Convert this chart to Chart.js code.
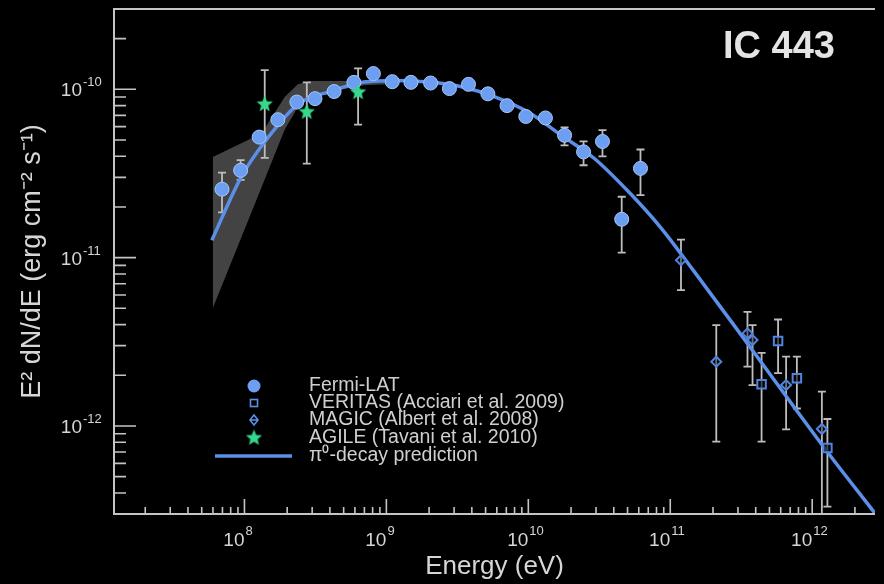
<!DOCTYPE html>
<html>
<head>
<meta charset="utf-8">
<script src="https://cdn.jsdelivr.net/npm/chart.js@4.4.0/dist/chart.umd.min.js"></script>
<style>
  html, body { margin: 0; padding: 0; background: #000; }
  #wrap { width: 884px; height: 584px; }
</style>
</head>
<body>
<div id="wrap"><canvas id="sed" width="884" height="584"></canvas></div>
<script>
// Fermi-LAT points (energy in eV, E^2 dN/dE in erg cm^-2 s^-1)
const fermiE  = [6.95e7, 9.4e7, 1.27e8, 1.72e8, 2.34e8, 3.14e8, 4.28e8, 5.9e8, 8.1e8, 1.1e9, 1.49e9, 2.05e9,
                 2.78e9, 3.79e9, 5.19e9, 7.08e9, 9.6e9, 1.32e10, 1.8e10, 2.45e10, 3.33e10, 4.55e10, 6.17e10];
const fermiF  = [2.55e-11, 3.3e-11, 5.2e-11, 6.6e-11, 8.4e-11, 8.8e-11, 9.7e-11, 1.1e-10, 1.24e-10, 1.11e-10, 1.1e-10, 1.09e-10,
                 1.01e-10, 1.07e-10, 9.4e-11, 8.0e-11, 6.9e-11, 6.76e-11, 5.33e-11, 4.25e-11, 4.9e-11, 1.69e-11, 3.39e-11];
const fermiLo = [1.86e-11, 2.9e-11, null, null, null, null, null, null, null, null, null, null,
                 null, null, null, null, null, null, 4.65e-11, 3.54e-11, 4.0e-11, 1.07e-11, 2.35e-11];
const fermiHi = [3.2e-11, 3.8e-11, null, null, null, null, null, null, null, null, null, null,
                 null, null, null, null, null, null, 5.94e-11, 4.91e-11, 5.72e-11, 2.3e-11, 4.39e-11];

// VERITAS
const veritasE  = [4.4e11, 5.75e11, 7.8e11, 1.28e12];
const veritasF  = [1.77e-12, 3.2e-12, 1.92e-12, 7.4e-13];
const veritasLo = [8.07e-13, 2.06e-12, 1.27e-12, 3.32e-13];
const veritasHi = [2.72e-12, 4.29e-12, 2.58e-12, 1.1e-12];

// MAGIC
const magicE  = [1.19e11, 2.11e11, 3.5e11, 3.8e11, 6.55e11, 1.17e12];
const magicF  = [9.66e-12, 2.41e-12, 3.55e-12, 3.24e-12, 1.75e-12, 9.6e-13];
const magicLo = [6.41e-12, 8.07e-13, 2.25e-12, 1.75e-12, 9.55e-13, 3.0e-13];
const magicHi = [1.28e-11, 3.97e-12, 4.76e-12, 3.97e-12, 2.58e-12, 1.6e-12];

// AGILE
const agileE  = [1.39e8, 2.75e8, 6.32e8];
const agileF  = [8.15e-11, 7.33e-11, 9.6e-11];
const agileLo = [3.91e-11, 3.62e-11, 6.17e-11];
const agileHi = [1.3e-10, 1.1e-10, 1.33e-10];

// pi0-decay model curve
const modelE = [5.89e7, 9.5e7, 1.39e8, 2.38e8, 4.06e8, 6.93e8, 1.18e9, 2.0e9, 3.44e9, 5.87e9, 9.98e9,
                1.71e10, 2.92e10, 4.95e10, 8.51e10, 1.45e11, 3.79e11, 1.3e12, 2.77e12];
const modelF = [1.27e-11, 3.02e-11, 4.88e-11, 8.15e-11, 9.73e-11, 1.104e-10, 1.13e-10, 1.104e-10, 1.033e-10, 9.0e-11, 7.33e-11,
                5.33e-11, 3.88e-11, 2.52e-11, 1.52e-11, 8.43e-12, 2.82e-12, 6.89e-13, 3.03e-13];

// systematic band around the model at low energy
const bandE  = [5.98e7, 1.32e8, 1.92e8, 2.38e8, 2.94e8, 4.52e8, 6.93e8, 1.18e9];
const bandHi = [3.96e-11, 5.46e-11, 9.0e-11, 1.07e-10, 1.12e-10, 1.12e-10, 1.12e-10, 1.12e-10];
const bandLo = [5.0e-12, 2.62e-11, 5.75e-11, 7.85e-11, 9.2e-11, 9.86e-11, 1.057e-10, 1.08e-10];

const xDecades = [8, 9, 10, 11, 12];
const yDecades = [-10, -11, -12];

const FONT = "'Liberation Sans', Arial, Helvetica, sans-serif";
const TEXT = '#d6d6d6';
const FRAME = '#c4c4c4';
const BLUE = '#5b8fe8';
const PT_BLUE = '#6c9ff2';
const GREEN = '#34d98c';

function pts(E, F) {
  return E.map((e, i) => ({ x: e, y: F[i] }));
}

function makeStar(r, color) {
  const c = document.createElement('canvas');
  const s = Math.ceil(r * 2 + 2);
  c.width = s; c.height = s;
  const g = c.getContext('2d');
  g.fillStyle = color;
  g.beginPath();
  for (let i = 0; i < 10; i++) {
    const rad = i % 2 === 0 ? r : r * 0.45;
    const a = -Math.PI / 2 + i * Math.PI / 5;
    const px = s / 2 + rad * Math.cos(a), py = s / 2 + rad * Math.sin(a);
    if (i === 0) g.moveTo(px, py); else g.lineTo(px, py);
  }
  g.closePath();
  g.fill();
  return c;
}
const star = makeStar(8.5, GREEN);

function errBars(chart, E, lo, hi) {
  const { ctx, scales: { x, y } } = chart;
  ctx.save();
  ctx.strokeStyle = '#bdbdbd';
  ctx.lineWidth = 1.8;
  for (let i = 0; i < E.length; i++) {
    if (lo[i] == null) continue;
    const px = x.getPixelForValue(E[i]);
    const y1 = y.getPixelForValue(hi[i]);
    const y2 = y.getPixelForValue(lo[i]);
    ctx.beginPath();
    ctx.moveTo(px, y1); ctx.lineTo(px, y2);
    ctx.moveTo(px - 4, y1); ctx.lineTo(px + 4, y1);
    ctx.moveTo(px - 4, y2); ctx.lineTo(px + 4, y2);
    ctx.stroke();
  }
  ctx.restore();
}

const errorPlugin = {
  id: 'errorPlugin',
  afterDatasetDraw(chart, args) {
    if (args.index !== chart.data.datasets.length - 1) return;
    errBars(chart, fermiE, fermiLo, fermiHi);
    errBars(chart, veritasE, veritasLo, veritasHi);
    errBars(chart, magicE, magicLo, magicHi);
    errBars(chart, agileE, agileLo, agileHi);
  }
};

const framePlugin = {
  id: 'framePlugin',
  afterDraw(chart) {
    const { ctx, chartArea: { top, bottom, left, right }, scales: { x, y } } = chart;
    ctx.save();
    ctx.strokeStyle = FRAME;
    ctx.lineWidth = 2;
    ctx.beginPath();
    ctx.moveTo(right, top); ctx.lineTo(left, top); ctx.lineTo(left, bottom); ctx.lineTo(right, bottom);
    ctx.stroke();

    // inward ticks
    ctx.lineWidth = 1.6;
    ctx.beginPath();
    for (let d = 7; d <= 12; d++) {
      for (let k = 1; k <= 9; k++) {
        const v = k * Math.pow(10, d);
        if (v < x.min || v > x.max) continue;
        const px = x.getPixelForValue(v);
        ctx.moveTo(px, bottom); ctx.lineTo(px, bottom - (k === 1 ? 15 : 7));
      }
    }
    for (let d = -13; d <= -10; d++) {
      for (let k = 1; k <= 9; k++) {
        const v = k * Math.pow(10, d);
        if (v < y.min || v > y.max) continue;
        const py = y.getPixelForValue(v);
        ctx.moveTo(left, py); ctx.lineTo(left + (k === 1 ? 22 : 12), py);
      }
    }
    ctx.stroke();

    // decade labels
    ctx.fillStyle = TEXT;
    ctx.textBaseline = 'alphabetic';
    xDecades.forEach(d => {
      const px = x.getPixelForValue(Math.pow(10, d));
      ctx.font = '19px ' + FONT;
      ctx.textAlign = 'right';
      ctx.fillText('10', px, 546);
      ctx.font = '13px ' + FONT;
      ctx.textAlign = 'left';
      ctx.fillText(String(d), px + 1, 535);
    });
    yDecades.forEach(d => {
      const py = y.getPixelForValue(Math.pow(10, d));
      ctx.font = '19px ' + FONT;
      ctx.textAlign = 'right';
      ctx.fillText('10', 82, py + 7);
      ctx.font = '13px ' + FONT;
      ctx.textAlign = 'left';
      ctx.fillText(String(d), 83, py - 3);
    });

    // source name
    ctx.font = 'bold 38px ' + FONT;
    ctx.fillStyle = '#e4e4e4';
    ctx.textAlign = 'right';
    ctx.fillText('IC 443', 835, 58);

    // legend
    const lx = 254, tx = 309;
    const rows = [386, 403, 420, 438, 456];
    ctx.fillStyle = PT_BLUE;
    ctx.beginPath(); ctx.arc(lx, rows[0], 6.5, 0, Math.PI * 2); ctx.fill();
    ctx.strokeStyle = BLUE; ctx.lineWidth = 1.6;
    ctx.strokeRect(lx - 3.5, rows[1] - 3.5, 7, 7);
    ctx.beginPath();
    ctx.moveTo(lx, rows[2] - 5); ctx.lineTo(lx + 4, rows[2]); ctx.lineTo(lx, rows[2] + 5); ctx.lineTo(lx - 4, rows[2]); ctx.closePath();
    ctx.moveTo(lx - 4, rows[2]); ctx.lineTo(lx + 4, rows[2]);
    ctx.stroke();
    ctx.drawImage(star, lx - star.width / 2, rows[3] - star.height / 2);
    ctx.strokeStyle = BLUE; ctx.lineWidth = 3.5;
    ctx.beginPath(); ctx.moveTo(215, rows[4]); ctx.lineTo(292, rows[4]); ctx.stroke();

    ctx.fillStyle = '#cfcfcf';
    ctx.font = '19.5px ' + FONT;
    ctx.textAlign = 'left';
    ctx.textBaseline = 'middle';
    const labels = ['Fermi-LAT', 'VERITAS (Acciari et al. 2009)', 'MAGIC (Albert et al. 2008)',
                    'AGILE (Tavani et al. 2010)', '\u03c0\u2070-decay prediction'];
    labels.forEach((t, i) => ctx.fillText(t, tx, rows[i]));
    ctx.restore();
  }
};

const ctx = document.getElementById('sed');

new Chart(ctx, {
  type: 'scatter',
  data: {
    datasets: [
      {
        label: 'AGILE (Tavani et al. 2010)',
        data: pts(agileE, agileF),
        pointStyle: star,
        pointRadius: 8
      },
      {
        label: 'Fermi-LAT',
        data: pts(fermiE, fermiF),
        pointRadius: 7,
        backgroundColor: PT_BLUE,
        borderColor: '#a8c5f7',
        borderWidth: 1
      },
      {
        label: 'VERITAS (Acciari et al. 2009)',
        data: pts(veritasE, veritasF),
        pointStyle: 'rect',
        pointRadius: 6,
        backgroundColor: 'rgba(0,0,0,0.6)',
        borderColor: '#4f84e0',
        borderWidth: 2
      },
      {
        label: 'MAGIC (Albert et al. 2008)',
        data: pts(magicE, magicF),
        pointStyle: 'rectRot',
        pointRadius: 5,
        backgroundColor: 'rgba(0,0,0,0.4)',
        borderColor: '#4f84e0',
        borderWidth: 2
      },
      {
        label: 'pi0-decay prediction',
        data: pts(modelE, modelF),
        showLine: true,
        pointRadius: 0,
        borderColor: BLUE,
        borderWidth: 3.5,
        cubicInterpolationMode: 'monotone'
      },
      {
        label: 'band upper',
        data: pts(bandE, bandHi),
        showLine: true,
        pointRadius: 0,
        borderWidth: 0,
        borderColor: 'rgba(0,0,0,0)',
        fill: false
      },
      {
        label: 'band lower',
        data: pts(bandE, bandLo),
        showLine: true,
        pointRadius: 0,
        borderWidth: 0,
        borderColor: 'rgba(0,0,0,0)',
        backgroundColor: '#434343',
        fill: '-1'
      }
    ]
  },
  options: {
    responsive: false,
    animation: false,
    events: [],
    layout: { padding: { top: 8, right: 0, left: 0, bottom: 0 } },
    plugins: {
      legend: { display: false },
      tooltip: { enabled: false }
    },
    scales: {
      x: {
        type: 'logarithmic',
        position: 'bottom',
        min: 1.205e7,
        max: 2.77e12,
        ticks: { display: false },
        grid: { display: false },
        border: { display: false },
        title: {
          display: true,
          text: 'Energy (eV)',
          color: TEXT,
          font: { family: FONT, size: 26 },
          padding: { top: 0, bottom: 2 }
        },
        afterFit(s) { s.height = 70; }
      },
      y: {
        type: 'logarithmic',
        position: 'left',
        min: 3e-13,
        max: 3e-10,
        ticks: { display: false },
        grid: { display: false },
        border: { display: false },
        title: {
          display: true,
          text: 'E\u00b2 dN/dE (erg cm\u207b\u00b2 s\u207b\u00b9)',
          color: TEXT,
          font: { family: FONT, size: 27 },
          padding: { top: 16, bottom: 0 }
        },
        afterFit(s) { s.width = 114; }
      }
    }
  },
  plugins: [errorPlugin, framePlugin]
});
</script>
</body>
</html>
